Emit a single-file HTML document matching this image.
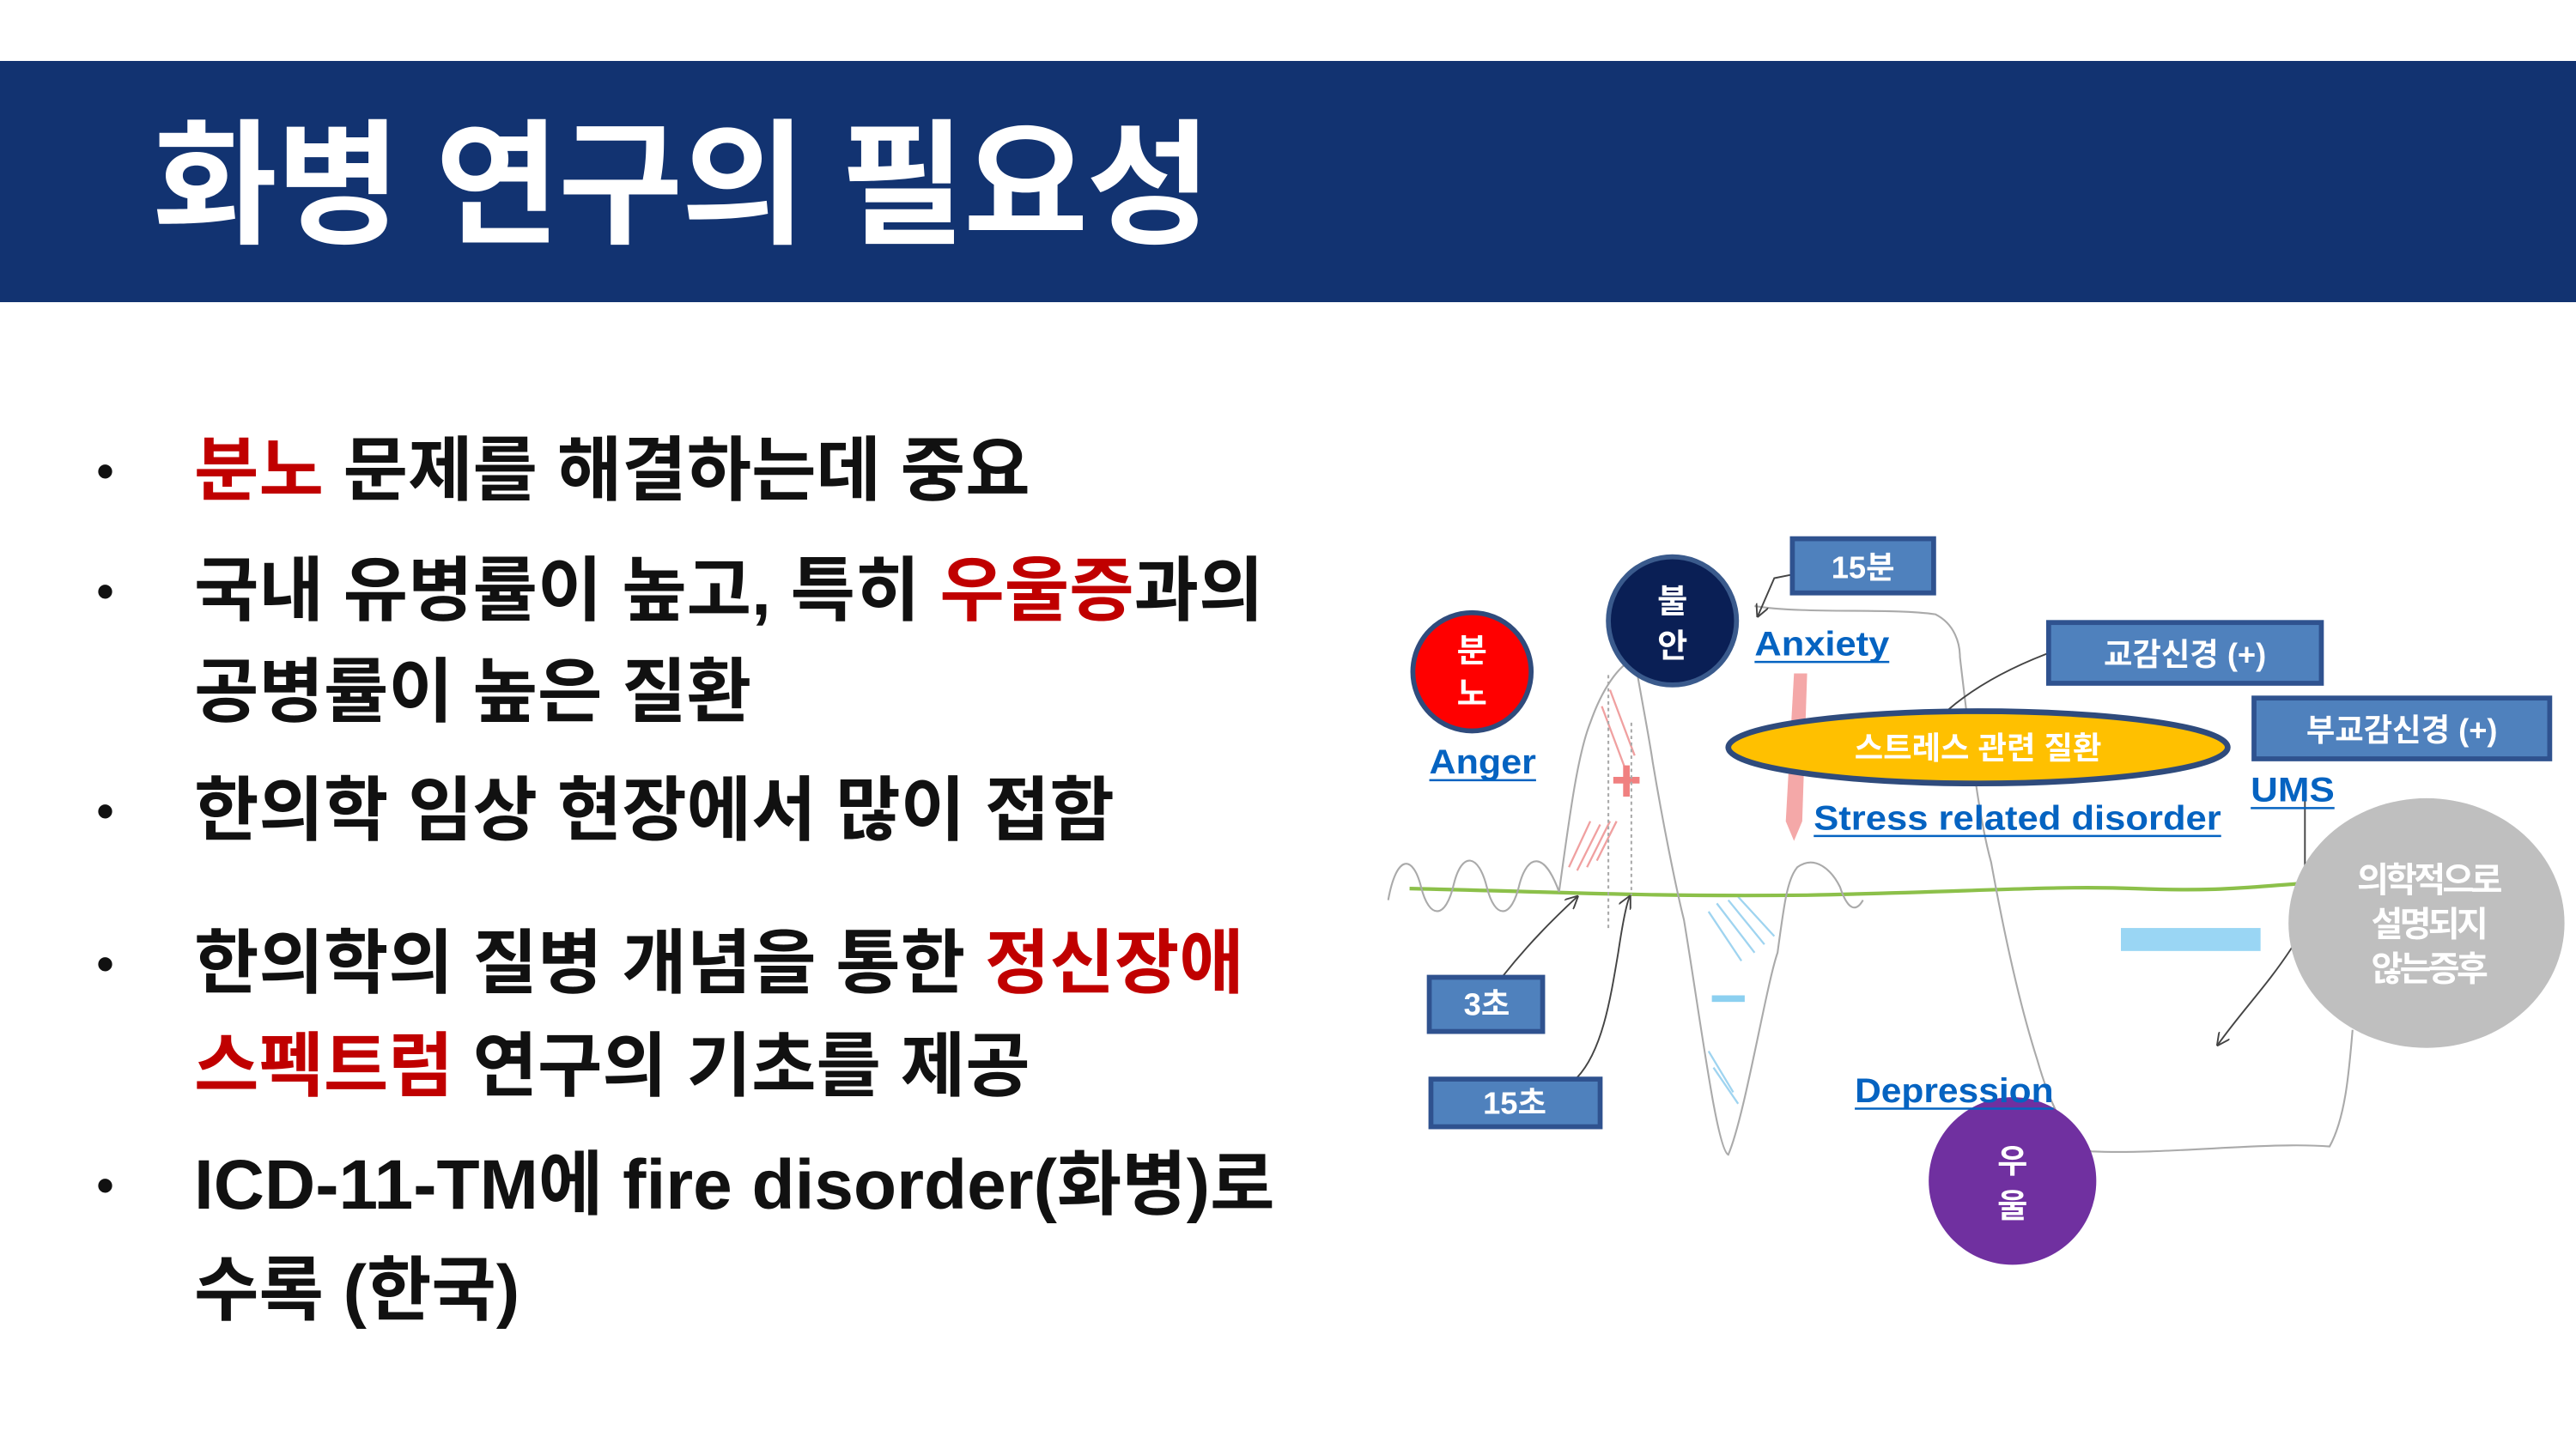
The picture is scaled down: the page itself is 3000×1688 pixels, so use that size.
<!DOCTYPE html>
<html><head><meta charset="utf-8"><style>
html,body{margin:0;padding:0;}
body{width:3000px;height:1688px;position:relative;background:#fff;overflow:hidden;font-family:"Liberation Sans","Noto Sans CJK KR",sans-serif;}
.band{position:absolute;left:0;top:71px;width:3000px;height:281px;background:#123371;}
.title{position:absolute;left:178px;top:138px;font-size:158px;font-weight:700;color:#fff;line-height:1;letter-spacing:-2px;}
.l{position:absolute;left:226px;font-size:82px;font-weight:700;color:#111;line-height:1;white-space:nowrap;transform:translateY(-50%);}
.b{position:absolute;left:112px;font-size:60px;color:#111;transform:translateY(-50%);}
.r{color:#C00000;}
svg{position:absolute;left:0;top:0;}
</style></head><body>
<div class="band"></div>
<div class="title">화병 연구의 필요성</div>

<div class="b" style="top:549px">•</div>
<div class="l" style="top:549px"><span class="r">분노</span> 문제를 해결하는데 중요</div>
<div class="b" style="top:689px">•</div>
<div class="l" style="top:689px">국내 유병률이 높고, 특히 <span class="r">우울증</span>과의</div>
<div class="l" style="top:807px">공병률이 높은 질환</div>
<div class="b" style="top:945px">•</div>
<div class="l" style="top:945px">한의학 임상 현장에서 많이 접함</div>
<div class="b" style="top:1123px">•</div>
<div class="l" style="top:1123px">한의학의 질병 개념을 통한 <span class="r">정신장애</span></div>
<div class="l" style="top:1243px"><span class="r">스펙트럼</span> 연구의 기초를 제공</div>
<div class="b" style="top:1381px">•</div>
<div class="l" style="top:1381px">ICD-11-TM에 fire disorder(화병)로</div>
<div class="l" style="top:1504px">수록 (한국)</div>

<svg width="3000" height="1688" viewBox="0 0 1568 882.2" preserveAspectRatio="none" font-family="Liberation Sans, Noto Sans CJK KR, sans-serif">
<defs><marker id="ah" markerWidth="8" markerHeight="8" refX="7" refY="4" orient="auto" markerUnits="userSpaceOnUse"><path d="M0,0 L8,4 L0,8" fill="none" stroke="#444" stroke-width="1"/></marker></defs>
<g stroke="#f0a0a0" stroke-width="1.2">
<line x1="955" y1="528" x2="968" y2="500"/><line x1="960" y1="530" x2="974" y2="502"/><line x1="966" y1="528" x2="980" y2="500"/><line x1="972" y1="524" x2="984" y2="500"/>
<line x1="975" y1="430" x2="990" y2="470"/><line x1="980" y1="420" x2="995" y2="460"/>
</g>
<path d="M982,475 L998,475 M990,466 L990,485" stroke="#f08080" stroke-width="4"/>
<g stroke="#9fd4f0" stroke-width="1.2">
<line x1="1040" y1="555" x2="1060" y2="585"/><line x1="1045" y1="550" x2="1068" y2="580"/><line x1="1052" y1="548" x2="1074" y2="575"/><line x1="1058" y1="546" x2="1080" y2="570"/>
<line x1="1040" y1="640" x2="1055" y2="665"/><line x1="1043" y1="650" x2="1058" y2="672"/>
</g>
<rect x="1042" y="606" width="20" height="4" fill="#8cd0f0"/>
<rect x="1291" y="565" width="85" height="14" fill="#9ad6f4"/>
<path d="M1092,410 L1100,410 L1097,500 L1092,512 L1087,500 Z" fill="#f4a8a8"/>
<path d="M858,541 C950,543 1000,546 1100,545 C1200,543 1250,539 1300,541 C1350,543 1370,540 1400,538" stroke="#8cc04a" stroke-width="2.2" fill="none"/>
<g stroke="#aaa" stroke-width="1.1" fill="none">
<path d="M845,548 C850,520 860,520 865,540 C870,560 880,560 885,538 C890,518 900,520 905,540 C910,560 920,560 925,538 C930,520 940,518 949,543 C955,500 960,460 968,440 C975,420 985,405 995,401 C1000,430 1004,450 1006,464 C1012,500 1020,540 1025,560 C1035,620 1045,700 1052,703 C1062,680 1075,600 1082,580 C1086,550 1088,535 1094,528 C1105,520 1115,530 1120,540 C1125,555 1130,555 1134,548"/>
<path d="M1068,369 C1100,374 1150,370 1178,374 C1190,380 1193,392 1193,400 C1200,460 1205,500 1212,525 C1222,580 1232,620 1240,645 C1250,680 1262,698 1273,701 C1320,703 1380,695 1418,698 C1428,680 1430,650 1432,627"/>
<path d="M979,565 L979,410 M993,440 L993,545" stroke-dasharray="2,2"/>
</g>
<g stroke="#444" stroke-width="1" fill="none">
<path d="M1090,350 L1080,352 L1070,375" marker-end="url(#ah)"/>
<path d="M915,594 C930,575 945,560 960,546" marker-end="url(#ah)"/>
<path d="M960,656 C975,640 980,610 985,580 C988,560 990,550 992,546" marker-end="url(#ah)"/>
<path d="M1395,577 C1380,600 1365,615 1350,636" marker-end="url(#ah)"/>
<path d="M1246,398 C1220,408 1200,420 1186,432"/>
<path d="M1403,476 L1403,545"/>
</g>
<circle cx="896" cy="409" r="36" fill="#ff0000" stroke="#2f4b7c" stroke-width="3"/>
<text x="896" y="403" fill="#fff" font-size="20" font-weight="700" text-anchor="middle">분</text>
<text x="896" y="429" fill="#fff" font-size="20" font-weight="700" text-anchor="middle">노</text>
<circle cx="1018" cy="378" r="39" fill="#0a1f55" stroke="#3a5a8c" stroke-width="3"/>
<text x="1018" y="373" fill="#fff" font-size="20" font-weight="700" text-anchor="middle">불</text>
<text x="1018" y="400" fill="#fff" font-size="20" font-weight="700" text-anchor="middle">안</text>
<circle cx="1225" cy="719" r="51" fill="#7030a0"/>
<text x="1225" y="714" fill="#fff" font-size="20" font-weight="700" text-anchor="middle">우</text>
<text x="1225" y="741" fill="#fff" font-size="20" font-weight="700" text-anchor="middle">울</text>
<ellipse cx="1477" cy="562" rx="84" ry="76" fill="#bfbfbf"/>
<g fill="#fff" font-size="21" font-weight="700" text-anchor="middle" letter-spacing="-2">
<text x="1478" y="543">의학적으로</text><text x="1478" y="570">설명되지</text><text x="1478" y="597">않는증후</text></g>
<ellipse cx="1204" cy="455" rx="152" ry="22" fill="#ffc000" stroke="#2f4b7c" stroke-width="3.5"/>
<text x="1204" y="462" fill="#fff" font-size="19" font-weight="700" text-anchor="middle">스트레스 관련 질환</text>
<g fill="#4f81bd" stroke="#2f528f" stroke-width="3">
<rect x="1091" y="328" width="86" height="33"/>
<rect x="1247" y="379" width="166" height="37"/>
<rect x="1372" y="425" width="180" height="37"/>
<rect x="870" y="595" width="69" height="33"/>
<rect x="871" y="657" width="103" height="29"/>
</g>
<g fill="#fff" font-size="19" font-weight="700" text-anchor="middle">
<text x="1134" y="352">15분</text>
<text x="1330" y="405">교감신경 (+)</text>
<text x="1462" y="451">부교감신경 (+)</text>
<text x="905" y="618">3초</text>
<text x="922" y="678">15초</text>
</g>
<g fill="#0563c1" font-size="21" font-weight="700">
<text x="1068" y="399" textLength="82" lengthAdjust="spacingAndGlyphs">Anxiety</text>
<text x="870" y="471" textLength="65" lengthAdjust="spacingAndGlyphs">Anger</text>
<text x="1104" y="505" textLength="248" lengthAdjust="spacingAndGlyphs">Stress related disorder</text>
<text x="1370" y="488" textLength="51" lengthAdjust="spacingAndGlyphs">UMS</text>
<text x="1129" y="671" textLength="121" lengthAdjust="spacingAndGlyphs">Depression</text>
</g>
<g stroke="#0563c1" stroke-width="1.3">
<line x1="1068" y1="403" x2="1150" y2="403"/><line x1="870" y1="475" x2="935" y2="475"/>
<line x1="1104" y1="509" x2="1352" y2="509"/><line x1="1370" y1="492" x2="1421" y2="492"/>
<line x1="1129" y1="675" x2="1250" y2="675"/></g>
</svg>
</body></html>
